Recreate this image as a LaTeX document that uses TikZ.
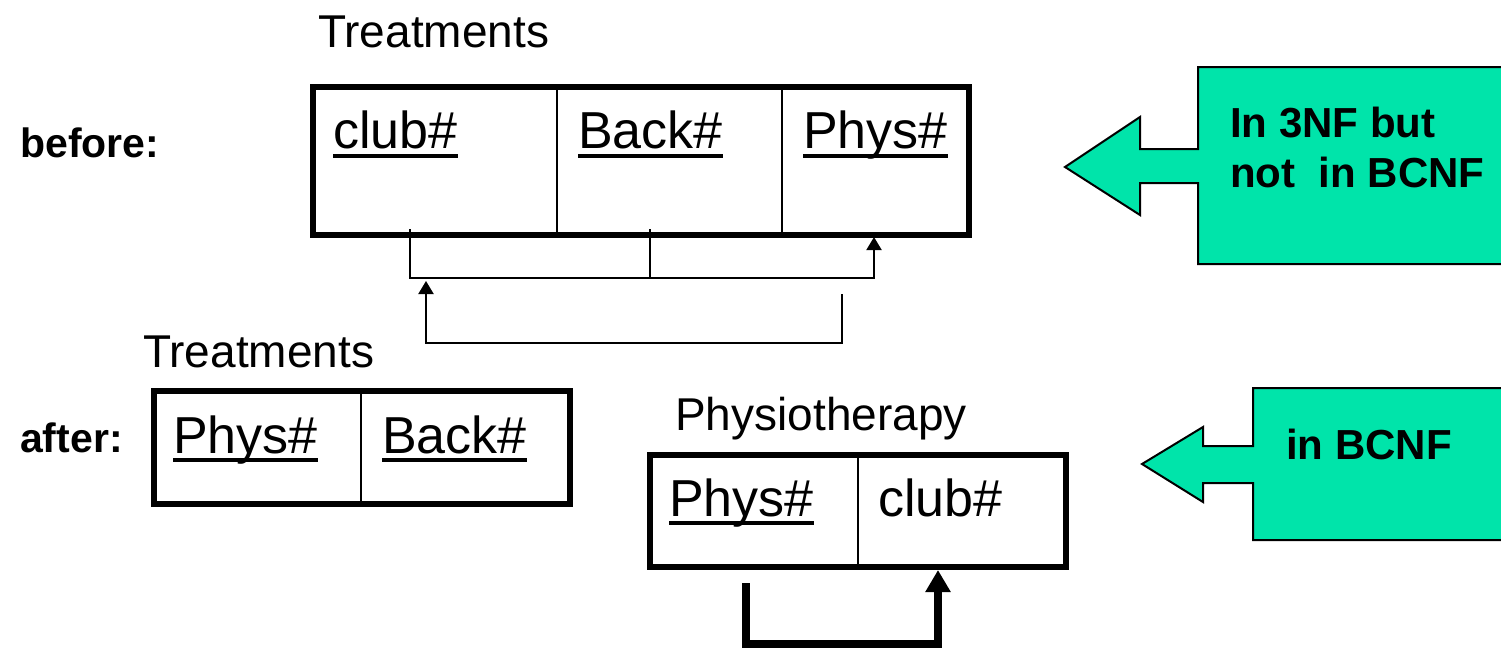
\documentclass[tikz,border=0pt]{standalone}
\usepackage{fontspec}
\setmainfont{Liberation Sans}
\usetikzlibrary{arrows.meta}
\definecolor{callout}{RGB}{0,228,170}
\begin{document}
\begin{tikzpicture}[x=1pt,y=-1pt,
  cell/.style={draw,line width=2.5pt,anchor=north west,inner sep=0pt,outer sep=0pt},
  title/.style={anchor=base west,inner sep=0pt,font=\fontsize{46}{50}\selectfont},
  key/.style={anchor=base west,inner sep=0pt,font=\fontsize{52}{56}\selectfont},
  lbl/.style={anchor=base west,inner sep=0pt,font=\bfseries\fontsize{41}{48}\selectfont},
  note/.style={anchor=base west,inner sep=0pt,font=\bfseries\fontsize{42}{50}\selectfont},
  uline/.style={line width=4pt},
  frame/.style={line width=6pt,line join=miter},
  fd/.style={line width=2pt,-{Triangle[length=13pt,width=15pt]}},
  fdline/.style={line width=2pt},
  bigfd/.style={line width=8pt,line join=miter,-{Triangle[length=22pt,width=24pt]}},
  arrowbox/.style={fill=callout,draw=black,line width=2pt,line join=miter}
]
\useasboundingbox (0,0) rectangle (1501,649);

% ---------- before: Treatments(club#, Back#, Phys#) ----------
\node[title] (tt1) at (318,47) {Treatments};
\node[lbl] (before) at (20,157) {before:};
\node[cell,minimum width=244pt,minimum height=147.5pt] (c1) at (313,87) {};
\node[cell,minimum width=225pt,minimum height=147.5pt] (c2) at (557,87) {};
\node[cell,minimum width=187pt,minimum height=147.5pt] (c3) at (782,87) {};
\draw[frame] (c1.north west) rectangle (c3.south east);
\node[key] (k1) at (333,148) {club\#};
\node[key] (k2) at (578,148) {Back\#};
\node[key] (k3) at (803,148) {Phys\#};
\foreach \k in {k1,k2,k3}
  \draw[uline] ([yshift=-8pt]\k.base west) -- ([yshift=-8pt]\k.base east);

% functional dependencies under the table
\coordinate (d1) at (410,229);
\coordinate (d2) at (650,229);
\coordinate (d3) at (874,237);
\coordinate (dbar) at (650,278);
\draw[fdline] (d2) -- (dbar);
\draw[fd] (d1) |- (dbar) -| (d3);
\coordinate (e1) at (842,294);
\coordinate (e2) at (426,281);
\draw[fd] (e1) -- ++(0,49) -| (e2);

% ---------- after: Treatments(Phys#, Back#) ----------
\node[title] (tt2) at (143,367) {Treatments};
\node[lbl] (after) at (20,452) {after:};
\node[cell,minimum width=207pt,minimum height=113pt] (b1) at (154,391) {};
\node[cell,minimum width=209pt,minimum height=113pt] (b2) at (361,391) {};
\draw[frame] (b1.north west) rectangle (b2.south east);
\node[key] (m1) at (173,453) {Phys\#};
\node[key] (m2) at (382,453) {Back\#};
\foreach \k in {m1,m2}
  \draw[uline] ([yshift=-7pt]\k.base west) -- ([yshift=-7pt]\k.base east);

% ---------- after: Physiotherapy(Phys#, club#) ----------
\node[title] (tt3) at (675,430) {Physiotherapy};
\node[cell,minimum width=208pt,minimum height=112pt] (p1) at (650,455) {};
\node[cell,minimum width=208pt,minimum height=112pt] (p2) at (858,455) {};
\draw[frame] (p1.north west) rectangle (p2.south east);
\node[key] (n1) at (669,516) {Phys\#};
\node[key] (n2) at (878,516) {club\#};
\draw[uline] ([yshift=-7pt]n1.base west) -- ([yshift=-7pt]n1.base east);
\coordinate (g1) at (746,583);
\coordinate (g2) at (938,570);
\draw[bigfd] (g1) -- ++(0,61) -| (g2);

% ---------- callouts ----------
\begin{scope}
\clip (0,0) rectangle (1501,649);
\draw[arrowbox] (1515,67) -- (1198,67) -- (1198,149) -- (1140,149) -- (1140,117)
  -- (1065,167) -- (1140,215) -- (1140,183) -- (1198,183) -- (1198,264) -- (1515,264);
\draw[arrowbox] (1515,388) -- (1253,388) -- (1253,446) -- (1203,446) -- (1203,427)
  -- (1142,464) -- (1203,502) -- (1203,483) -- (1253,483) -- (1253,540) -- (1515,540);
\end{scope}
\node[note] (q1) at (1230,137) {In 3NF but};
\node[note] (q2) at (1230,187) {not\ \ in BCNF};
\node[note] (q3) at (1286,459) {in BCNF};
\end{tikzpicture}
\end{document}
